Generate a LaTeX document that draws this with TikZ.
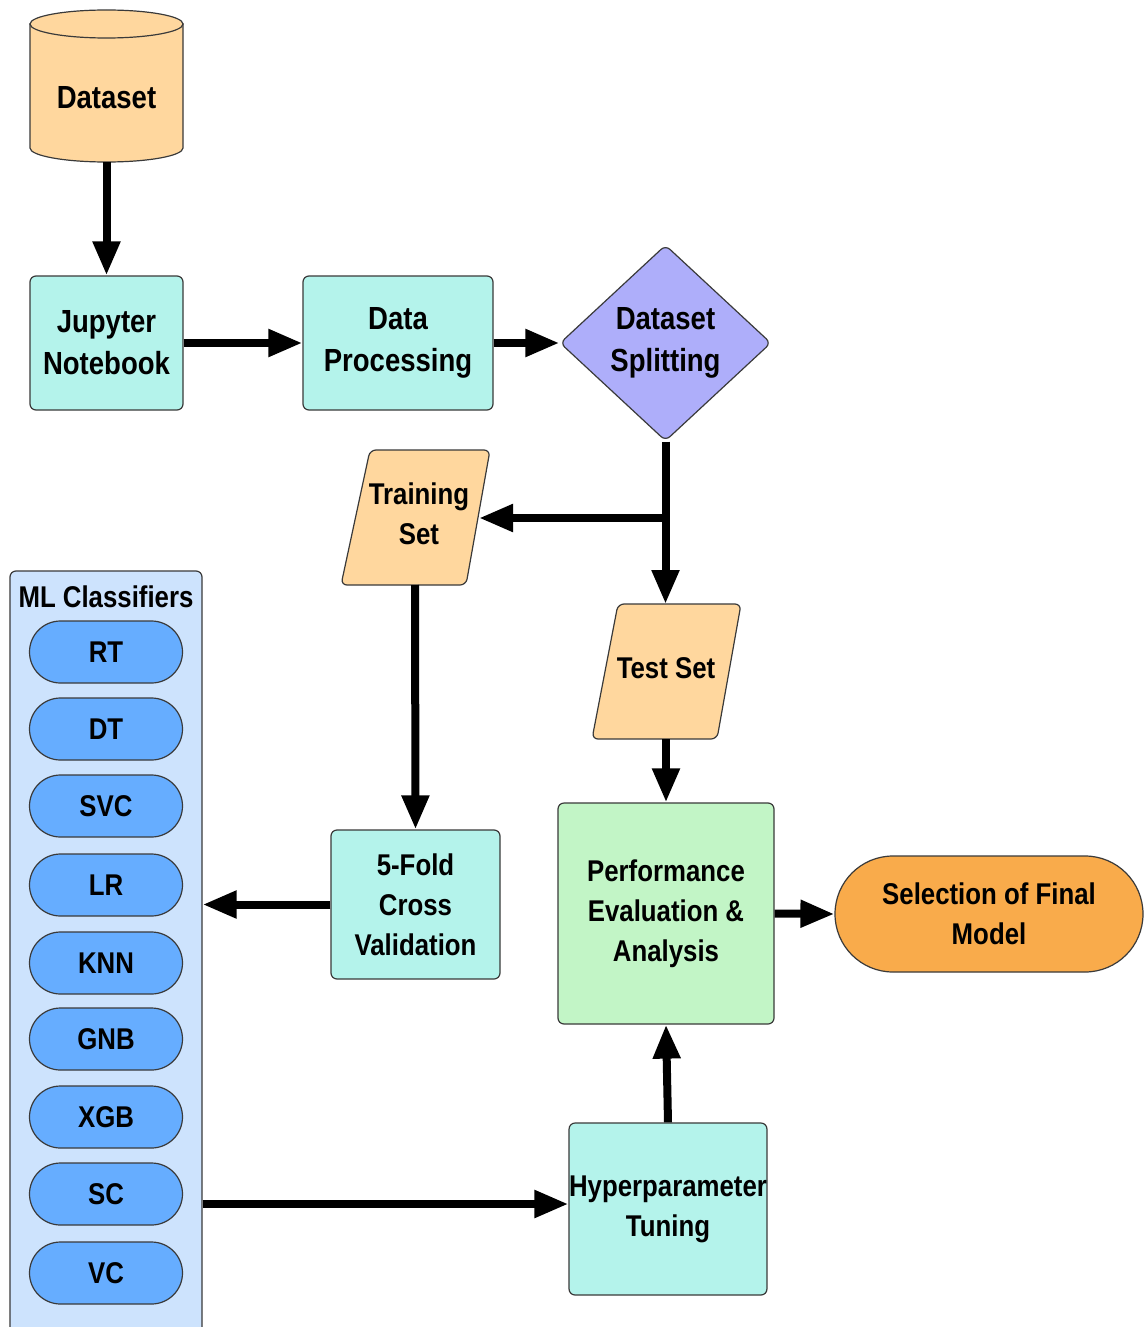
\documentclass[tikz,border=0pt]{standalone}
\usepackage{fontspec}
\setmainfont{Liberation Sans}[FakeStretch=0.86]
\usetikzlibrary{shapes.geometric,shapes.misc,arrows.meta}

\definecolor{cyl}{HTML}{FFD79E}
\definecolor{cyanbox}{HTML}{B4F3EB}
\definecolor{lav}{HTML}{AEAEFA}
\definecolor{greenbox}{HTML}{C2F5C6}
\definecolor{orangebox}{HTML}{F9AB4B}
\definecolor{mlbg}{HTML}{CDE3FD}
\definecolor{pillc}{HTML}{66ADFF}
\definecolor{edgec}{HTML}{3A3A3A}

\begin{document}
\begin{tikzpicture}[x=1pt,y=-1pt,
  every node/.style={font=\fontsize{30}{40}\selectfont\bfseries, align=center, inner sep=0pt},
  big/.style={font=\fontsize{32}{42}\selectfont\bfseries},
  outl/.style={draw=edgec, line width=1.2pt},
  box/.style={outl, rectangle, rounded corners=6pt},
  pillnode/.style={outl, rounded rectangle, fill=pillc, minimum width=153pt, minimum height=62pt},
  arr/.style={line width=8pt, -{Triangle[length=34pt,width=26pt]}}
]
\fill[white] (0,0) rectangle (1145,1327);
\useasboundingbox (0,0) rectangle (1145,1327);

% Dataset cylinder
\path[outl, fill=cyl] (30,24) -- (30,148) arc[start angle=180, end angle=360, x radius=76.5pt, y radius=14pt] -- (183,24) -- cycle;
\path[outl, fill=cyl] (106.5,24) ellipse[x radius=76.5pt, y radius=14pt];
\node[big] (dataset) at (106.5,98) {Dataset};
\coordinate (cylb) at (106.5,162);

% Top row
\node[box, big, fill=cyanbox, minimum width=153pt, minimum height=134pt] (jup) at (106.5,343) {Jupyter\\Notebook};
\node[box, big, fill=cyanbox, minimum width=190pt, minimum height=134pt] (dp) at (398,343) {Data\\Processing};
\node[outl, big, diamond, rounded corners=6pt, fill=lav, minimum width=211pt, minimum height=196pt] (split) at (665.5,343) {Dataset\\Splitting};

% Training set parallelogram
\path[outl, fill=cyl, rounded corners=6pt] (370,450) -- (490,450) -- (466,585) -- (341,585) -- cycle;
\node (train) at (419,514) {Training\\Set};
\coordinate (trainR) at (479,518);
\coordinate (trainB) at (415,585);

% Test set parallelogram
\path[outl, fill=cyl, rounded corners=6pt] (618,604) -- (741,604) -- (717,739) -- (592,739) -- cycle;
\node (test) at (666,668) {Test Set};
\coordinate (testT) at (665.5,604);
\coordinate (testB) at (666,739);

% Other boxes
\node[box, fill=cyanbox, minimum width=169pt, minimum height=149pt] (fold) at (415.5,904.5) {5-Fold\\Cross\\Validation};
\node[box, fill=greenbox, minimum width=216pt, minimum height=221pt] (perf) at (666,913.5) {Performance\\Evaluation \&\\Analysis};
\node[outl, rounded rectangle, fill=orangebox, minimum width=308pt, minimum height=116pt] (sel) at (989,914) {Selection of Final\\Model};
\node[box, fill=cyanbox, minimum width=194pt, minimum height=172pt] (hyper) at (668,1209) {Hyperparameter\\Tuning};

% ML classifiers container
\node[box, fill=mlbg, minimum width=192pt, minimum height=780pt] (ml) at (106,961) {};
\node (mltitle) at (106,597) {ML Classifiers};
\node[pillnode] (rt)  at (106,652)  {RT};
\node[pillnode] (dt)  at (106,729)  {DT};
\node[pillnode] (svc) at (106,806)  {SVC};
\node[pillnode] (lr)  at (106,885)  {LR};
\node[pillnode] (knn) at (106,963)  {KNN};
\node[pillnode] (gnb) at (106,1039) {GNB};
\node[pillnode] (xgb) at (106,1117) {XGB};
\node[pillnode] (sc)  at (106,1194) {SC};
\node[pillnode] (vc)  at (106,1273) {VC};

% Connectors
\draw[arr] (cylb) -- (jup.north);
\draw[arr] (jup.east) -- (dp.west);
\draw[arr] (dp.east) -- (split.west);
\coordinate (br) at (665.5,518);
\draw[arr] (split.south) -- (testT);
\draw[arr] (br) -- (trainR);
\draw[arr] (trainB) -- (fold.north);
\draw[arr] (testB) -- (perf.north);
\draw[arr] (perf.east) -- (sel.west);
\draw[arr] (fold.west) -- (fold.west -| ml.east);
\coordinate (hl) at (570,1204);
\draw[arr] (hl -| ml.east) -- (hl -| hyper.west);
\draw[arr] (hyper.north) -- (perf.south);
\end{tikzpicture}
\end{document}
